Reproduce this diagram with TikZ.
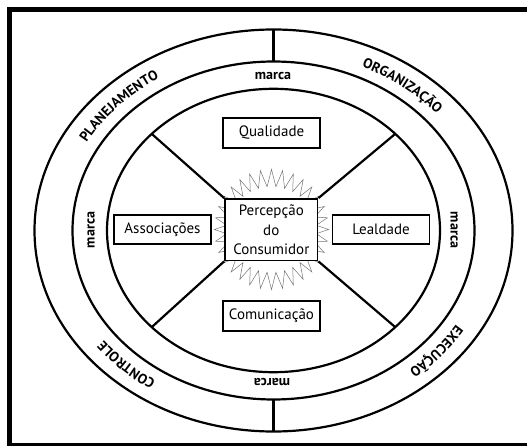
\documentclass[tikz,border=0pt]{standalone}
\usepackage{fontspec}
\setmainfont{PT Sans}
\usetikzlibrary{decorations.text}
\newcommand\ringlabelfont{\bfseries\fontsize{14}{16}\selectfont}
\begin{document}
\begin{tikzpicture}[x=1pt,y=1pt,
  frame/.style={line width=5.3pt},
  ring/.style={line width=2.2pt},
  spoke/.style={line width=2.2pt},
  burst/.style={draw=black!55,line width=0.5pt},
  attr/.style={draw,fill=white,line width=1.8pt,minimum width=97pt,minimum height=30pt,
    inner sep=0pt,font=\fontsize{15}{19.3}\selectfont},
  brand/.style={font=\bfseries\fontsize{14}{16}\selectfont,inner sep=0pt},
  outer/.style={decorate,decoration={text along path,text align=center,text={|\ringlabelfont|#1}}}
  ]
\useasboundingbox (0,0) rectangle (527,445);
\clip (0,0) rectangle (527,445);
\draw[frame] (9.65,-1) rectangle (540,435.35);

\coordinate (c) at (273.5,214.5);
\draw[ring] (c) ellipse [x radius=239, y radius=201];
\draw[ring] (c) ellipse [x radius=201, y radius=169];
\draw[ring] (c) ellipse [x radius=166.5, y radius=141.7];

\path (c) ++(0,201) coordinate (ot);
\path (c) ++(0,169) coordinate (mt);
\path (c) ++(0,-201) coordinate (ob);
\path (c) ++(0,-169) coordinate (mb);
\draw[ring] (ot) -- (mt);
\draw[ring] (mb) -- (ob);

\path (c) ++(137:166.5 and 141.7) coordinate (s1);
\path (c) ++(43:166.5 and 141.7) coordinate (s2);
\path (c) ++(223:166.5 and 141.7) coordinate (s3);
\path (c) ++(317:166.5 and 141.7) coordinate (s4);

\begin{scope}[shift={(271.5,215.5)}]
\draw[burst] (90:57 and 60) \foreach \a in {90,101.25,...,438.75} {-- (\a:57 and 60) -- ({\a+5.625}:45 and 43)} -- cycle;
\end{scope}

\node[attr,minimum width=92.5pt,minimum height=61.5pt,align=center] (pc) at (271.3,215.25) {Percepção\\do\\Consumidor};
\draw[spoke] (s1) -- (pc.north west);
\draw[spoke] (s2) -- (pc.north east);
\draw[spoke] (s3) -- (pc.south west);
\draw[spoke] (s4) -- (pc.south east);

\node[attr] (q) at (271.5,312) {Qualidade};
\node[attr,minimum height=29pt] (a) at (162.5,215.5) {Associações};
\node[attr,minimum height=29pt] (l) at (381,215.5) {Lealdade};
\node[attr] (co) at (271.5,129) {Comunicação};

\node[brand] (m1) at (273,368.5) {marca};
\node[brand,rotate=90] (m2) at (91,215) {marca};
\node[brand,rotate=-90] (m3) at (454,215) {marca};
\node[brand,rotate=180] (m4) at (272,63.5) {marca};

\path[outer=PLANEJAMENTO] (c) ++(167.5:214 and 180) arc[start angle=167.5,end angle=107.5,x radius=214,y radius=180];
\path[outer=ORGANIZAÇÃO] (c) ++(82:214 and 180) arc[start angle=82,end angle=22,x radius=214,y radius=180];
\path[outer=EXECUÇÃO] (c) ++(-10:214 and 180) arc[start angle=-10,end angle=-70,x radius=214,y radius=180];
\path[outer=CONTROLE] (c) ++(256:214 and 180) arc[start angle=256,end angle=196,x radius=214,y radius=180];
\end{tikzpicture}
\end{document}
